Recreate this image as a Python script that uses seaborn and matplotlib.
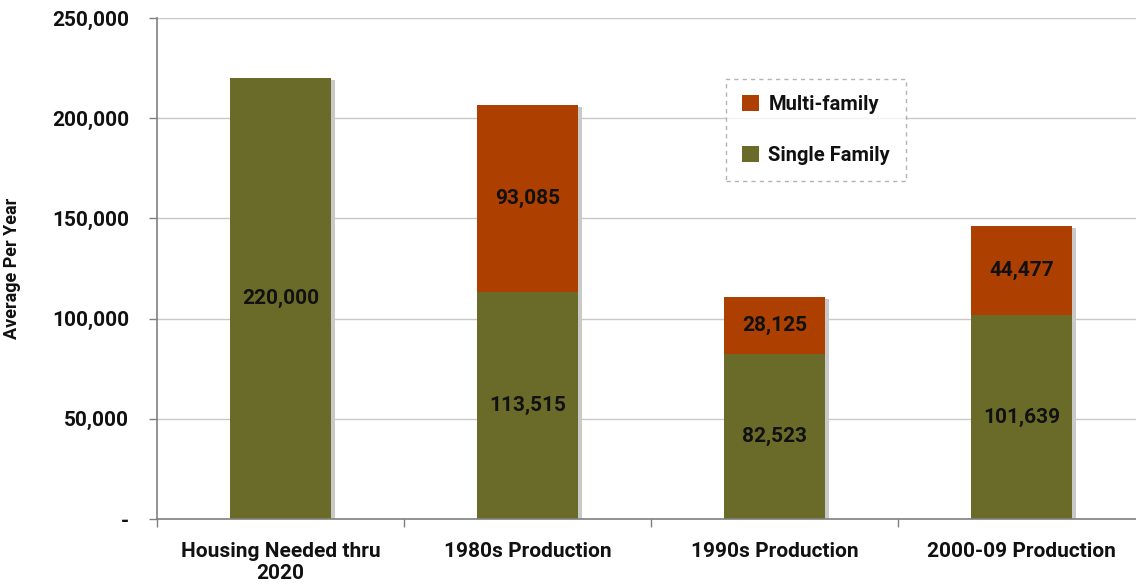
import matplotlib
matplotlib.use("Agg")
import matplotlib.pyplot as plt
import matplotlib.patheffects as pe
from matplotlib.ticker import FuncFormatter, FixedLocator
import seaborn as sns
import pandas as pd

categories = ["Housing Needed thru\n2020", "1980s Production", "1990s Production", "2000-09 Production"]
single_family = [220000, 113515, 82523, 101639]
multi_family = [0, 93085, 28125, 44477]
y_ticks = [0, 50000, 100000, 150000, 200000, 250000]

totals = [s + m for s, m in zip(single_family, multi_family)]
df = pd.DataFrame({"cat": categories, "single": single_family, "multi": multi_family, "total": totals})

sns.set_style("white")
FONT = ["Roboto", "DejaVu Sans"]
plt.rcParams["font.family"] = FONT
plt.rcParams["font.weight"] = "bold"

OLIVE = "#6b6b29"
RUST = "#ad3f00"

fig = plt.figure(figsize=(11.36, 5.85), dpi=100)
ax = fig.add_axes([157/1136, 66/585, 988/1136, 501/585])

shadow = [pe.SimplePatchShadow(offset=(3, -1.5), shadow_rgbFace="#c9c9c9", alpha=1.0), pe.Normal()]

sns.barplot(data=df, x="cat", y="total", color=RUST, saturation=1, width=0.405, ax=ax, label="Multi-family")
sns.barplot(data=df, x="cat", y="single", color=OLIVE, saturation=1, width=0.405, ax=ax, label="Single Family")
for p in ax.patches:
    p.set_path_effects(shadow)
    p.set_edgecolor("none")

ax.set_xlim(-0.5, 3.5)
ax.set_ylim(0, 250000)
ax.set_yticks(y_ticks)
ax.yaxis.set_major_formatter(FuncFormatter(lambda v, _: "-" if v == 0 else f"{int(v):,}"))
ax.yaxis.grid(True, color="#c8c8c8", linewidth=1)
ax.set_axisbelow(True)
for s in ["top", "right"]:
    ax.spines[s].set_visible(False)
for s in ["left", "bottom"]:
    ax.spines[s].set_color("#808080")
    ax.spines[s].set_linewidth(1.2)

ax.tick_params(axis="y", which="major", left=True, length=6, width=1, color="#808080", labelsize=15, pad=14)
ax.tick_params(axis="x", which="major", bottom=False, labelsize=15, pad=13)
ax.xaxis.set_minor_locator(FixedLocator([-0.5, 0.5, 1.5, 2.5, 3.5]))
ax.tick_params(axis="x", which="minor", bottom=True, length=6, width=1, color="#808080")
for lbl in ax.get_xticklabels() + ax.get_yticklabels():
    lbl.set_fontweight("bold")
    lbl.set_color("#111111")
ax.set_xlabel("")
ax.set_ylabel("Average Per Year", fontsize=13, fontweight="bold", color="#111111")
ax.yaxis.set_label_coords(-(157 - 21) / 988, 0.5)

for i in range(len(categories)):
    s = single_family[i]
    m = multi_family[i]
    ax.text(i, s / 2, f"{s:,}", ha="center", va="center", fontsize=15, fontweight="bold", color="#111111")
    if m > 0:
        ax.text(i, s + m / 2, f"{m:,}", ha="center", va="center", fontsize=15, fontweight="bold", color="#111111")

handles, labels = ax.get_legend_handles_labels()
leg = ax.legend(handles[:2], labels[:2], loc="upper left", bbox_to_anchor=((726-157)/988, (519-79)/501),
                borderaxespad=0, frameon=True, handlelength=0.85, handleheight=0.85, labelspacing=1.6,
                borderpad=0.8, handletextpad=0.45, fancybox=False, prop={"weight": "bold", "size": 14.5})
frame = leg.get_frame()
frame.set_edgecolor("#a0a0a0")
frame.set_linestyle((0, (3, 3)))
frame.set_linewidth(1)
for h in leg.legend_handles:
    h.set_path_effects([])
for t in leg.get_texts():
    t.set_color("#111111")

fig.savefig("out.png", dpi=100)
